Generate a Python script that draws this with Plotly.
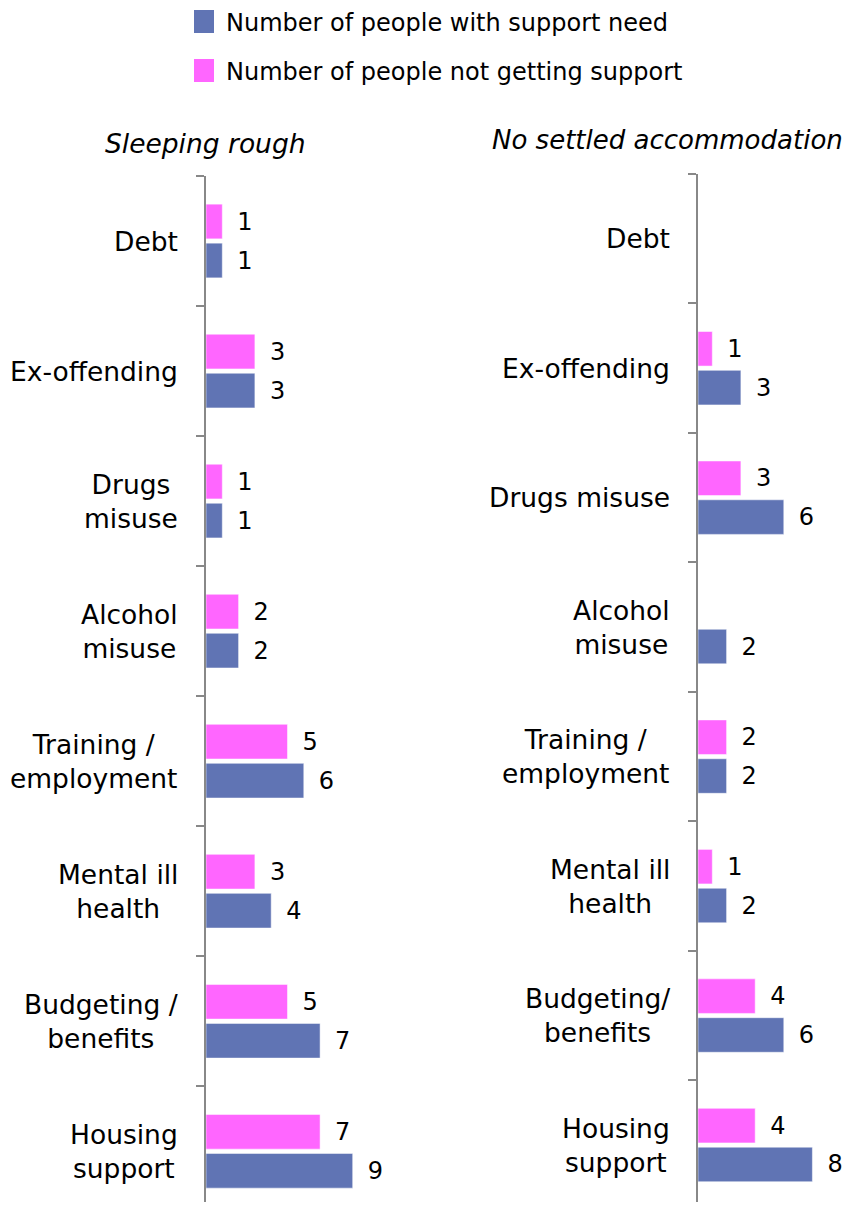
import plotly.graph_objects as go

# categories (top to bottom)
categories = ["Debt", "Ex-offending", "Drugs misuse", "Alcohol misuse",
              "Training / employment", "Mental ill health",
              "Budgeting / benefits", "Housing support"]

labels_rough = ["Debt", "Ex-offending", "Drugs<br>misuse", "Alcohol<br>misuse",
                "Training /<br>employment", "Mental ill<br>health",
                "Budgeting /<br>benefits", "Housing<br>support"]
labels_nsa = ["Debt", "Ex-offending", "Drugs misuse", "Alcohol<br>misuse",
              "Training /<br>employment", "Mental ill<br>health",
              "Budgeting/<br>benefits", "Housing<br>support"]

# Sleeping rough
rough_need = [1, 3, 1, 2, 6, 4, 7, 9]
rough_not_getting = [1, 3, 1, 2, 5, 3, 5, 7]

# No settled accommodation
nsa_need = [None, 3, 6, 2, 2, 2, 6, 8]
nsa_not_getting = [None, 1, 3, None, 2, 1, 4, 4]

legend_names = ["Number of people with support need",
                "Number of people not getting support"]

BLUE = "#6074B4"
PINK = "#FF66FF"
FONT = "DejaVu Sans, Verdana, sans-serif"
OFF = 8  # page body margin
W, H = 854 - 2 * OFF, 1210 - 2 * OFF  # keep the page from scrolling


def px(x):
    return (x - OFF) / W


def py(y):
    return 1 - (y - OFF) / H


def labels(vals):
    return ["\u2002" + str(v) if v else "" for v in vals]


def bar(vals, color, xa, ya):
    return go.Bar(
        y=categories, x=vals, orientation="h",
        marker=dict(color=color, line=dict(color="rgba(255,255,255,0.5)", width=1)),
        text=labels(vals), textposition="outside", cliponaxis=False,
        constraintext="none", textfont=dict(size=24, color="black", family=FONT),
        xaxis=xa, yaxis=ya, showlegend=False, hoverinfo="skip",
    )


fig = go.Figure()
# pink first so it sits above the blue bar inside each group
fig.add_trace(bar(rough_not_getting, PINK, "x", "y"))
fig.add_trace(bar(rough_need, BLUE, "x", "y"))
fig.add_trace(bar(nsa_not_getting, PINK, "x2", "y2"))
fig.add_trace(bar(nsa_need, BLUE, "x2", "y2"))

yaxis_style = dict(
    type="category", categoryorder="array", categoryarray=categories,
    showline=True, linecolor="#888888", linewidth=2,
    ticks="outside", ticklen=8, tickwidth=2, tickcolor="#888888",
    tickson="boundaries", showticklabels=False, showgrid=False, zeroline=False,
    fixedrange=True,
)

fig.update_layout(
    width=W, height=H,
    margin=dict(l=0, r=0, t=0, b=0),
    paper_bgcolor="white", plot_bgcolor="white",
    barmode="group", bargap=0.4, bargroupgap=0.11,
    font=dict(family=FONT, size=24, color="black"),
    xaxis=dict(domain=[px(206), px(369)], range=[0, 10], visible=False),
    # the left panel runs off the bottom of the picture in the original
    yaxis=dict(domain=[0, py(176)], range=[7.39, -0.5], anchor="x", **yaxis_style),
    xaxis2=dict(domain=[px(698), px(841)], range=[0, 10], visible=False, anchor="y2"),
    yaxis2=dict(domain=[max(py(1207), 0), py(174)], range=[7.44, -0.5], anchor="x2",
                **yaxis_style),
)

# category labels, centred lines, right aligned block
for cat, lab in zip(categories, labels_rough):
    fig.add_annotation(x=0, y=cat, xref="x", yref="y", text=lab, showarrow=False,
                       xanchor="right", xshift=-26, align="center",
                       font=dict(size=26.5))
for cat, lab in zip(categories, labels_nsa):
    fig.add_annotation(x=0, y=cat, xref="x2", yref="y2", text=lab, showarrow=False,
                       xanchor="right", xshift=-26, align="center",
                       font=dict(size=26.5))

# panel titles
fig.add_annotation(x=px(205), y=py(143), xref="paper", yref="paper",
                   text="<i>Sleeping rough</i>", showarrow=False,
                   xanchor="center", yanchor="middle", font=dict(size=26.5))
fig.add_annotation(x=1, y=py(140), xref="paper", yref="paper",
                   text="<i>No settled accommodation</i>", showarrow=False,
                   xanchor="right", xshift=-1, yanchor="middle", font=dict(size=26))

# legend drawn by hand so the swatches match the original size
for i, (name, color) in enumerate(zip(legend_names, [BLUE, PINK])):
    top = 10 + i * 49
    fig.add_shape(type="rect", xref="paper", yref="paper",
                  x0=px(194), x1=px(214), y0=py(top + 23), y1=py(top),
                  fillcolor=color, line=dict(width=0))
    fig.add_annotation(x=px(224), y=py(top + 13), xref="paper", yref="paper",
                       text=name, showarrow=False, xanchor="left", yanchor="middle",
                       font=dict(size=24))

fig.write_html("out.html")
